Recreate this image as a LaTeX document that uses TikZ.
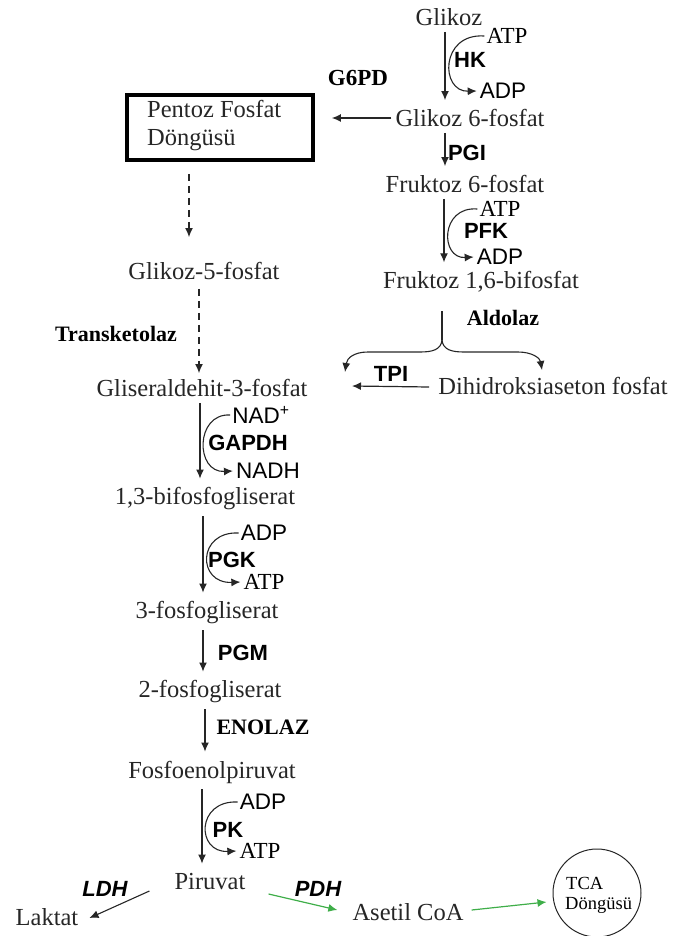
\documentclass[tikz,border=0pt]{standalone}
\usepackage{fontspec}
\setmainfont{Liberation Serif}
\setsansfont{Liberation Sans}
\usetikzlibrary{arrows.meta}
\definecolor{ink}{HTML}{262626}
\definecolor{grn}{HTML}{3FAE49}
\tikzset{
  met/.style={font=\fontsize{24.5}{27}\selectfont, inner sep=1pt, text=ink},
  enz/.style={font=\sffamily\bfseries\fontsize{22}{24}\selectfont, inner sep=1pt},
  enzi/.style={font=\sffamily\bfseries\itshape\fontsize{22}{24}\selectfont, inner sep=1pt},
  enzs/.style={font=\bfseries\fontsize{22}{24}\selectfont, inner sep=1pt},
  cof/.style={font=\sffamily\fontsize{22.5}{24}\selectfont, inner sep=1pt},
  cofs/.style={font=\fontsize{23}{25}\selectfont, inner sep=1pt},
  tip/.style={-{Latex[length=9pt,width=8pt]}},
  main/.style={tip, line width=1.2pt, draw=ink},
  side/.style={tip, line width=1.1pt, draw=ink},
  dsh/.style={dash pattern=on 7pt off 5pt},
}
\newcommand{\mainarrow}[3]{\draw[main, shorten <=5pt, shorten >=8pt] ([xshift=#3]#1.south) -- ([xshift=#3]#1.south |- #2.north);}
\begin{document}
\begin{tikzpicture}[x=1pt,y=-1pt]
\useasboundingbox (0,0) rectangle (678,936);
% metabolites
\node[met] (glk) at (449,17) {Glikoz};
\node[met] (g6p) at (470,118) {Glikoz 6-fosfat};
\node[met] (f6p) at (465,184) {Fruktoz 6-fosfat};
\node[met] (f16) at (481,282) {Fruktoz 1,6-bifosfat};
\node[met] (dhap) at (553,386) {Dihidroksiaseton fosfat};
\node[met] (g5p) at (204,271) {Glikoz-5-fosfat};
\node[met] (gap) at (202,388) {Gliseraldehit-3-fosfat};
\node[met] (bpg) at (205,499) {1,3-bifosfogliserat};
\node[met] (pg3) at (207,613) {3-fosfogliserat};
\node[met] (pg2) at (210,692) {2-fosfogliserat};
\node[met] (pep) at (212,772) {Fosfoenolpiruvat};
\node[met] (pyr) at (210,881) {Piruvat};
\node[met] (lac) at (47,917) {Laktat};
\node[met] (acoa) at (408,912) {Asetil CoA};
% boxes
\node[draw=black, line width=3.8pt, minimum width=186pt, minimum height=65pt, inner sep=0pt] (ppp) at (220,127.5) {};
\node[met, align=left, anchor=west, font=\fontsize{24.5}{28}\selectfont] (ppptxt) at (146,126) {Pentoz Fosfat\\Döngüsü};
\node[draw=ink, circle, minimum size=88pt, line width=1pt, inner sep=0pt] (tca) at (597,893) {};
\node[font=\fontsize{18.5}{20}\selectfont, inner sep=0pt, anchor=west] (tca1) at (566,883) {TCA};
\node[font=\fontsize{18.5}{20}\selectfont, inner sep=0pt, anchor=west] (tca2) at (565,905) {Döngüsü};
% enzymes
\node[enz] (hk) at (470,60) {HK};
\node[enzs, font=\bfseries\fontsize{23}{25}\selectfont] (g6pd) at (358,78) {G6PD};
\node[enz] (pgi) at (467,153) {PGI};
\node[enz] (pfk) at (486,231) {PFK};
\node[enzs] (ald) at (503,318) {Aldolaz};
\node[enz] (tpi) at (391,374) {TPI};
\node[enzs] (tk) at (116,334) {Transketolaz};
\node[enz] (gapdh) at (248,443) {GAPDH};
\node[enz] (pgk) at (232,560) {PGK};
\node[enz] (pgm) at (243,653) {PGM};
\node[enzs] (eno) at (263,727) {ENOLAZ};
\node[enz] (pk) at (228,830) {PK};
\node[enzi] (ldh) at (105,889) {LDH};
\node[enzi] (pdh) at (318,889) {PDH};
% cofactors
\node[cofs] (atp1) at (507,36) {ATP};
\node[cof] (adp1) at (503,91) {ADP};
\node[cofs] (atp2) at (500,209) {ATP};
\node[cof] (adp2) at (500,257) {ADP};
\node[cof] (nad) at (261,415) {NAD\textsuperscript{+}};
\node[cof] (nadh) at (268,471) {NADH};
\node[cof] (adp3) at (264,533) {ADP};
\node[cofs] (atp3) at (264,582) {ATP};
\node[cof] (adp4) at (263,802) {ADP};
\node[cofs] (atp4) at (260,851) {ATP};
% main arrows
\mainarrow{glk}{g6p}{-4pt}
\mainarrow{g6p}{f6p}{-25pt}
\mainarrow{f6p}{f16}{-21pt}
\mainarrow{gap}{bpg}{-2pt}
\mainarrow{bpg}{pg3}{-2pt}
\mainarrow{pg3}{pg2}{-4pt}
\mainarrow{pg2}{pep}{-5pt}
\mainarrow{pep}{pyr}{-10pt}
\draw[main, shorten >=17pt, shorten <=3pt] (g6p.west) -- (ppp.east |- g6p.west);
\coordinate (tpiend) at (352,386);
\draw[main] ([xshift=-8pt,yshift=-1pt]dhap.west) -- (tpiend);
\draw[side] ([xshift=-24pt,yshift=-10pt]pyr.west) -- ([xshift=10pt,yshift=-1pt]lac.east);
% dashed
\draw[main, dsh, shorten <=12pt] ([xshift=-15pt]ppp.south -| g5p) -- ([xshift=-15pt,yshift=24pt]g5p.north);
\draw[main, dsh, shorten <=8pt, shorten >=5pt] ([xshift=-5pt]g5p.south) -- ([xshift=-5pt]g5p.south |- gap.north);
% green
\draw[tip, line width=1.2pt, draw=grn] ([xshift=22pt,yshift=-13pt]pyr.east) -- ([xshift=-14pt,yshift=2pt]acoa.west);
\draw[tip, line width=1.2pt, draw=grn] ([xshift=7pt,yshift=2pt]acoa.east) -- ([xshift=-6pt,yshift=-9pt]tca.west);
% aldolase bracket
\coordinate (bt) at (442,311);
\coordinate (bm) at (442,340);
\coordinate (bl) at (345,372);
\coordinate (br) at (542,370);
\draw[ink, line width=1.1pt] (bt) -- (bm);
\draw[side] (bm) .. controls (441,350) and (432,352) .. (420,352) -- (368,352) .. controls (354,352) and (347,358) .. (bl);
\draw[side] (bm) .. controls (443,350) and (452,352) .. (464,352) -- (518,352) .. controls (532,352) and (540,358) .. (br);
% cofactor curves
\draw[side] ([xshift=-1pt]atp1.west) .. controls (440,33) and (440,92) .. ([xshift=-2pt]adp1.west);
\draw[side] ([xshift=-1pt]atp2.west) .. controls (440,206) and (440,259) .. ([xshift=-2pt]adp2.west);
\draw[side] ([xshift=-1pt]nad.west) .. controls (195,413) and (195,473) .. ([xshift=-2pt]nadh.west);
\draw[side] ([xshift=-1pt]adp3.west) .. controls (197,531) and (197,584) .. ([xshift=-2pt]atp3.west);
\draw[side] ([xshift=-1pt]adp4.west) .. controls (196,800) and (196,853) .. ([xshift=-2pt]atp4.west);
\end{tikzpicture}
\end{document}
